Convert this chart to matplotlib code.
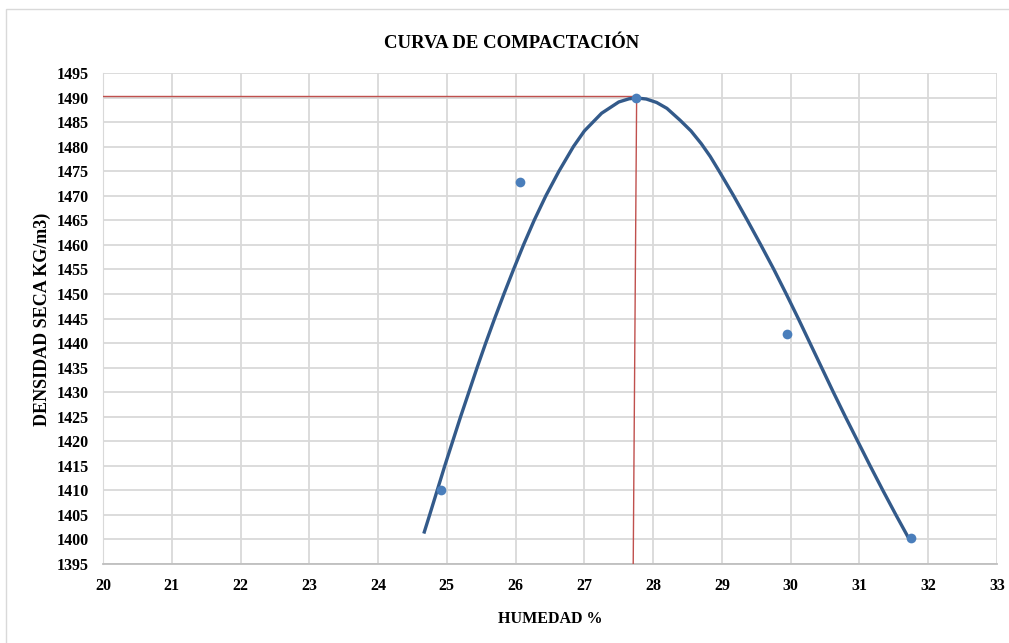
import matplotlib
matplotlib.use("Agg")
import matplotlib.pyplot as plt
from matplotlib.patches import Rectangle

# Data points (humedad %, densidad seca)
hum = [24.92, 26.07, 27.75, 29.94, 31.75]
dens = [1410.0, 1472.7, 1489.9, 1441.8, 1400.3]

# Trend curve
curve_x = [24.665, 24.75, 24.86, 24.97, 25.085, 25.20, 25.32, 25.44, 25.565, 25.695,
           25.83, 25.97, 26.115, 26.27, 26.44, 26.63, 26.84, 27.00, 27.25, 27.50,
           27.65, 27.77, 27.90, 28.05, 28.20, 28.39, 28.55, 28.70, 28.83, 28.96,
           29.17, 29.37, 29.565, 29.755, 29.935, 30.11, 30.28, 30.45, 30.62, 30.795,
           30.975, 31.155, 31.34, 31.53, 31.71]
curve_y = [1401.2, 1405, 1410, 1415, 1420, 1425, 1430, 1435, 1440, 1445,
           1450, 1455, 1460, 1465, 1470, 1475, 1480, 1483.2, 1486.8, 1489.1,
           1489.75, 1489.9, 1489.7, 1489.0, 1487.8, 1485.4, 1483.2, 1480.6, 1478.0, 1475,
           1470, 1465, 1460, 1455, 1450, 1445, 1440, 1435, 1430, 1425,
           1420, 1415, 1410, 1405, 1400.4]

# Optimum reference lines
opt_hum = 27.73
opt_dens = 1490.3

x_ticks = list(range(20, 34))
y_ticks = list(range(1395, 1500, 5))

title = "CURVA DE COMPACTACIÓN"
xlabel = "HUMEDAD %"
ylabel = "DENSIDAD SECA KG/m3)"

W, H = 1009, 643
fig = plt.figure(figsize=(W / 100, H / 100), dpi=100)
fig.patch.set_facecolor("white")
fig.patches.append(Rectangle((6 / W, -0.1), 1.2, 1 - 9 / H + 0.1,
                             transform=fig.transFigure, fill=False,
                             edgecolor="#d9d9d9", linewidth=1.0))

left, right, top, bottom = 103, 997, 73, 564
ax = fig.add_axes([left / W, 1 - bottom / H, (right - left) / W, (bottom - top) / H])
ax.set_xlim(20, 33)
ax.set_ylim(1395, 1495)
ax.set_xticks(x_ticks)
ax.set_yticks(y_ticks)
ax.grid(True, color="#d9d9d9", linewidth=1.3)
ax.set_axisbelow(True)
ax.tick_params(length=0, pad=10)
for s in ["top", "right"]:
    ax.spines[s].set_visible(False)
ax.spines["left"].set_color("#d9d9d9")
ax.spines["bottom"].set_color("#bfbfbf")
ax.spines["bottom"].set_linewidth(1.3)

font = "Liberation Serif"
for lab in ax.get_xticklabels() + ax.get_yticklabels():
    lab.set_fontfamily(font)
    lab.set_fontweight("bold")
    lab.set_fontsize(11.5)

ax.plot([20, opt_hum + 0.03], [opt_dens, opt_dens], color="#c0504d", linewidth=1.0, zorder=3)
ax.plot([opt_hum - 0.02, opt_hum + 0.03], [1395, opt_dens], color="#c0504d", linewidth=1.0, zorder=3)

ax.plot(curve_x, curve_y, color="#335a8a", linewidth=2.4, solid_capstyle="butt",
        solid_joinstyle="round", zorder=4)
ax.plot(hum, dens, linestyle="none", marker="o", markersize=7,
        color="#4a7ebb", markeredgewidth=0, zorder=5)

fig.text(511.5 / W, 1 - 43 / H, title, ha="center", va="center",
         fontfamily=font, fontweight="bold", fontsize=13.5)
fig.text(550 / W, 1 - 619 / H, xlabel, ha="center", va="center",
         fontfamily=font, fontweight="bold", fontsize=11.5)
fig.text(42 / W, 1 - 319 / H, ylabel, ha="center", va="center", rotation=90,
         fontfamily=font, fontweight="bold", fontsize=13)

fig.savefig("out.png", dpi=100)
